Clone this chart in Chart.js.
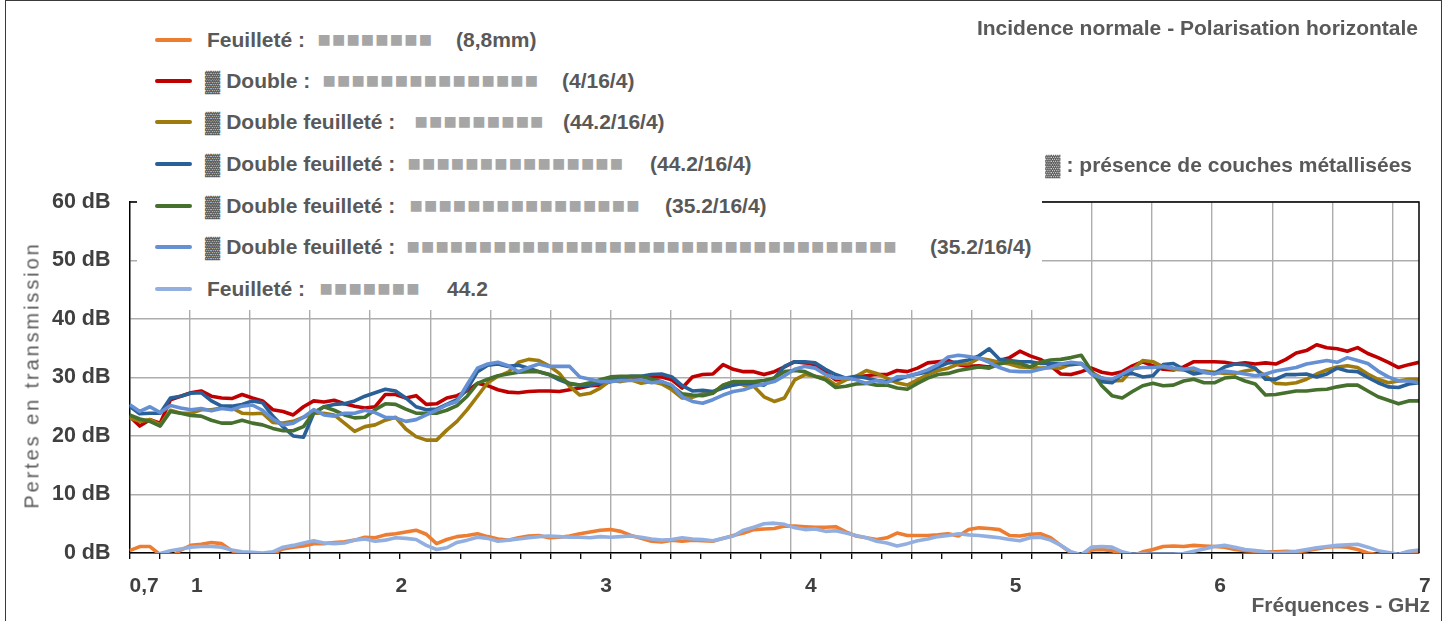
<!DOCTYPE html>
<html><head><meta charset="utf-8">
<script src="https://cdn.jsdelivr.net/npm/chart.js@4.4.0/dist/chart.umd.min.js"></script>
<style>
html,body{margin:0;padding:0;background:#fff;}
#wrap{position:relative;width:1450px;height:621px;overflow:hidden;font-family:"Liberation Sans",Arial,sans-serif;}
#c{position:absolute;left:0;top:0;}
.frame{position:absolute;left:5px;top:0px;width:1437px;height:660px;border:1.5px solid #3a3a3a;box-sizing:border-box;pointer-events:none}
.lgbox{position:absolute;background:#fff;}
.sw{position:absolute;left:155px;width:37px;height:4px;border-radius:2px;}
.t{position:absolute;white-space:nowrap;font-weight:bold;font-size:21px;color:#595959;line-height:24px;}
.sq{position:absolute;color:#A6A6A6;font-size:22px;line-height:26px;font-family:"Liberation Sans";}
.ytitle{position:absolute;left:32px;top:375px;transform:translate(-50%,-50%) rotate(-90deg);white-space:nowrap;font-size:20px;color:#595959;letter-spacing:2.9px;}
</style></head>
<body><div id="wrap">
<canvas id="c" width="1450" height="621"></canvas>
<div class="lgbox" style="left:137px;top:2px;width:905px;height:308px"></div>
<div id="legend"></div>
<div class="t" style="right:32px;top:16px">Incidence normale - Polarisation horizontale</div>
<div class="t" style="right:38px;top:153px">▓ : présence de couches métallisées</div>
<div class="ytitle">Pertes en transmission</div>
<div class="t" style="right:20px;top:593px">Fréquences - GHz</div>
<div class="frame"></div>
</div>
<script>
// ---- data, frequency in GHz, losses in dB ----
const freqGHz = [
 0.70,0.75,0.80,0.85,0.90,0.95,1.00,1.05,1.10,1.15,
 1.20,1.25,1.30,1.35,1.40,1.45,1.50,1.55,1.60,1.65,
 1.70,1.75,1.80,1.85,1.90,1.95,2.00,2.05,2.10,2.15,
 2.20,2.25,2.30,2.35,2.40,2.45,2.50,2.55,2.60,2.65,
 2.70,2.75,2.80,2.85,2.90,2.95,3.00,3.05,3.10,3.15,
 3.20,3.25,3.30,3.35,3.40,3.45,3.50,3.55,3.60,3.65,
 3.70,3.75,3.80,3.85,3.90,3.95,4.00,4.05,4.10,4.15,
 4.20,4.25,4.30,4.35,4.40,4.45,4.50,4.55,4.60,4.65,
 4.70,4.75,4.80,4.85,4.90,4.95,5.00,5.05,5.10,5.15,
 5.20,5.25,5.30,5.35,5.40,5.45,5.50,5.55,5.60,5.65,
 5.70,5.75,5.80,5.85,5.90,5.95,6.00,6.05,6.10,6.15,
 6.20,6.25,6.30,6.35,6.40,6.45,6.50,6.55,6.60,6.65,
 6.70,6.75,6.80,6.85,6.90,6.95,7.00];
const feuillete88 = [
 0.4,1.1,1.1,-0.3,-0.8,0.5,1.3,1.5,1.8,1.6,
 0.4,-0.4,-0.8,-0.6,-0.1,0.7,1.0,1.2,1.6,1.6,
 1.8,1.9,2.2,2.7,2.6,3.1,3.3,3.6,3.9,3.2,
 1.6,2.3,2.8,3.0,3.3,2.8,2.4,2.2,2.6,2.9,
 3.0,2.6,2.7,2.9,3.3,3.6,3.9,4.0,3.7,3.0,
 2.5,2.0,1.9,2.2,2.0,2.2,2.1,2.0,2.5,3.0,
 3.4,4.0,4.1,4.2,4.6,4.6,4.5,4.4,4.4,4.5,
 3.6,2.9,2.6,2.3,2.6,3.4,3.0,3.0,3.0,3.1,
 3.3,2.9,4.0,4.3,4.2,4.0,3.0,2.9,3.2,3.3,
 2.6,1.3,0.0,-0.5,0.5,0.6,0.4,-0.2,-0.5,0.2,
 0.6,1.1,1.2,1.1,1.3,1.2,1.1,1.0,0.6,0.4,
 0.3,0.2,0.2,0.3,0.2,0.4,0.7,1.0,1.1,1.0,
 0.6,0.0,-0.3,-0.3,-0.3,0.2,0.2];
const double4164 = [
 23.4,21.7,22.8,22.2,26.2,26.8,27.4,27.7,26.8,26.5,
 26.4,27.1,26.5,26.0,24.5,24.2,23.6,25.0,26.0,25.8,
 26.1,25.5,25.1,24.8,25.0,27.1,27.1,26.5,26.9,25.4,
 25.5,26.5,26.9,27.7,29.0,28.6,27.9,27.5,27.4,27.6,
 27.7,27.7,27.6,27.9,28.2,28.6,28.7,29.3,29.9,29.9,
 30.0,30.1,30.1,29.6,28.2,30.1,30.5,30.6,32.2,31.4,
 31.0,31.0,30.5,31.0,31.8,32.7,32.5,32.2,30.9,29.6,
 29.7,30.1,30.3,30.5,30.5,31.2,31.0,31.6,32.5,32.7,
 32.9,32.2,31.9,32.0,31.8,32.9,33.4,34.5,33.7,33.1,
 32.0,30.6,30.5,31.0,31.6,30.9,30.6,31.0,32.0,32.7,
 32.0,31.4,31.3,31.8,32.7,32.7,32.7,32.6,32.3,32.5,
 32.3,32.5,32.3,33.1,34.2,34.6,35.6,35.1,34.9,34.5,
 35.1,34.1,33.4,32.6,31.7,32.2,32.6];
const dblFeuil442A = [
 23.1,22.5,22.8,21.9,24.4,23.9,23.9,24.5,24.5,24.8,
 24.8,23.9,23.8,23.9,22.3,22.2,22.5,23.2,23.9,23.9,
 23.6,22.2,20.8,21.6,21.9,22.7,23.2,21.2,19.9,19.3,
 19.3,21.0,22.5,24.5,26.8,29.1,30.2,30.9,32.6,33.1,
 32.9,32.0,30.7,28.5,27.0,27.3,28.2,29.5,29.3,29.6,
 29.0,29.3,28.9,27.9,26.5,26.6,27.2,27.4,28.7,29.3,
 28.7,28.5,26.7,25.9,26.5,29.6,30.5,30.2,29.9,28.7,
 29.6,30.2,31.2,30.7,29.9,29.1,28.7,29.6,30.5,31.2,
 31.6,32.3,32.3,33.3,33.0,32.6,32.3,31.8,31.7,31.6,
 31.7,31.6,32.3,32.4,30.9,29.9,29.4,29.5,31.4,32.9,
 32.7,31.8,31.4,31.3,31.1,31.1,30.9,30.7,30.7,31.1,
 31.4,30.3,29.0,28.9,29.1,29.7,30.6,31.3,31.8,32.0,
 31.7,30.6,29.7,29.1,29.4,29.7,29.7];
const dblFeuil442B = [
 25.1,23.8,23.9,23.9,26.5,26.8,27.3,27.4,26.0,25.1,
 25.1,25.4,26.0,25.7,23.4,21.6,20.0,19.8,23.9,25.0,
 25.4,25.5,26.0,26.8,27.4,28.0,27.7,26.5,25.0,24.5,
 24.6,25.4,26.2,28.0,31.0,32.1,32.3,31.9,32.1,31.6,
 31.0,30.5,29.6,28.9,28.7,28.7,29.0,29.6,29.9,30.2,
 30.2,30.5,30.6,30.1,28.6,27.7,27.8,27.6,28.2,28.7,
 29.0,29.0,28.7,29.9,31.9,32.7,32.7,32.5,31.4,30.5,
 29.9,30.2,29.9,29.5,29.3,29.6,30.2,30.6,31.0,31.8,
 32.5,32.7,33.0,33.7,34.9,33.1,32.9,32.7,32.7,32.4,
 32.4,32.3,32.2,32.4,30.7,29.3,29.1,30.5,30.7,30.1,
 30.3,32.2,32.4,31.4,30.6,30.9,30.7,31.8,32.3,32.2,
 31.6,29.7,29.7,30.5,30.5,30.6,30.1,30.6,31.6,31.1,
 31.0,30.0,29.1,28.4,28.3,28.9,29.1];
const dblFeuil352A = [
 23.6,22.9,22.5,21.7,24.2,23.9,23.5,23.4,22.7,22.2,
 22.2,22.7,22.2,21.9,21.3,20.9,20.9,21.6,24.0,25.0,
 24.4,23.6,23.1,23.2,24.5,25.5,25.4,24.6,23.9,23.9,
 23.9,24.4,25.2,26.8,29.0,29.7,30.3,30.6,30.9,31.0,
 31.0,30.5,29.9,29.0,28.7,29.1,29.6,30.1,30.2,30.2,
 30.2,29.7,29.3,28.5,27.2,27.0,26.9,27.3,28.7,29.3,
 29.3,29.3,29.5,29.9,31.0,31.2,31.0,30.2,29.6,28.3,
 28.5,28.9,29.0,28.7,28.7,28.2,28.0,29.0,29.9,30.5,
 30.7,31.2,31.5,31.8,31.6,32.3,32.7,32.4,31.8,32.6,
 33.0,33.1,33.4,33.8,31.1,28.6,26.9,26.5,27.6,28.6,
 29.0,28.6,28.7,29.4,29.7,29.1,29.1,29.9,30.1,29.4,
 28.9,27.0,27.1,27.4,27.7,27.7,27.9,28.0,28.4,28.7,
 28.7,27.7,26.7,26.1,25.5,26.0,26.0];
const dblFeuil352B = [
 25.4,24.2,25.0,24.0,25.2,24.8,24.5,24.7,24.3,24.7,
 24.5,25.1,25.3,24.4,22.9,21.9,22.2,23.2,24.5,23.6,
 23.4,23.9,23.9,24.4,24.0,23.2,23.1,22.5,22.8,23.6,
 24.4,25.3,25.9,28.8,31.6,32.3,32.6,32.0,31.0,31.7,
 32.3,31.9,31.9,31.9,30.1,29.7,29.3,29.3,29.5,29.5,
 29.6,29.1,29.3,28.7,26.7,25.9,25.6,26.2,27.0,27.6,
 27.9,28.5,28.9,29.3,30.3,31.4,31.9,31.6,30.5,29.9,
 29.9,29.6,29.0,29.5,29.1,30.1,30.2,30.7,31.3,32.2,
 33.5,33.8,33.6,33.3,32.6,31.7,31.1,31.0,31.0,31.4,
 31.8,32.3,32.6,32.4,30.6,29.9,29.7,30.6,31.5,31.7,
 31.7,31.9,31.6,31.4,31.6,30.9,30.6,31.1,30.9,30.6,
 30.3,30.6,31.1,31.4,31.7,32.3,32.6,32.9,32.6,33.4,
 32.9,32.4,31.1,30.1,29.4,29.4,29.1];
const feuillete442 = [
 -1.5,-1.2,-0.6,-0.1,0.4,0.7,1.0,1.1,1.1,1.0,
 0.5,0.2,0.1,0.0,0.2,1.0,1.3,1.7,2.1,1.7,
 1.6,1.7,2.2,2.4,2.0,2.2,2.6,2.5,2.3,1.3,
 0.6,0.9,1.8,2.2,2.7,2.5,2.0,2.2,2.4,2.6,
 2.8,2.9,2.8,2.7,2.7,2.6,2.8,2.7,2.8,2.9,
 2.7,2.4,2.2,2.3,2.6,2.4,2.3,2.1,2.5,2.9,
 3.9,4.4,5.0,5.1,4.9,4.3,4.0,4.1,3.7,3.8,
 3.4,3.0,2.6,2.0,1.7,1.2,1.6,2.1,2.4,2.8,
 3.0,3.3,3.1,3.0,2.8,2.6,2.3,2.1,2.6,2.7,
 2.2,1.3,0.2,-0.3,1.0,1.1,1.0,0.2,-0.2,-0.2,
 -0.2,-0.2,-0.2,-0.1,0.3,0.7,1.1,1.3,1.0,0.6,
 0.4,0.2,0.0,0.1,0.3,0.6,0.9,1.1,1.3,1.4,
 1.5,1.0,0.4,0.1,-0.2,0.3,0.5];
const yTickValues = [0,10,20,30,40,50,60];
const xLabelValues = [0.7,1,2,3,4,5,6,7];
const seriesNames = ["Feuilleté : (8,8mm)","Double : (4/16/4)","Double feuilleté : (44.2/16/4)","Double feuilleté : (44.2/16/4)","Double feuilleté : (35.2/16/4)","Double feuilleté : (35.2/16/4)","Feuilleté : 44.2"];
const seriesValues = [feuillete88,double4164,dblFeuil442A,dblFeuil442B,dblFeuil352A,dblFeuil352B,feuillete442];
const seriesColors = ["#ED7D31","#C00000","#9E7B0C","#2A6098","#46702E","#6690D4","#93AFE0"];

// ---- legend (HTML text) ----
const legendRows = [
  {y:40, parts:[["Feuilleté :",207],[8,318],["(8,8mm)",456]]},
  {y:81, parts:[["▓ Double :",205],[15,323],["(4/16/4)",562]]},
  {y:122,parts:[["▓ Double feuilleté :",205],[9,415],["(44.2/16/4)",563]]},
  {y:164,parts:[["▓ Double feuilleté :",205],[15,408],["(44.2/16/4)",650]]},
  {y:206,parts:[["▓ Double feuilleté :",205],[16,410],["(35.2/16/4)",665]]},
  {y:247,parts:[["▓ Double feuilleté :",205],[34,407],["(35.2/16/4)",930]]},
  {y:289,parts:[["Feuilleté :",207],[7,320],["44.2",447]]}
];
const lg = document.getElementById('legend');
legendRows.forEach((r,i)=>{
  const sw = document.createElement('div'); sw.className='sw';
  sw.style.top=(r.y-2)+'px'; sw.style.background=seriesColors[i]; lg.appendChild(sw);
  r.parts.forEach(p=>{
    if(typeof p[0]==='number'){
      for(let k=0;k<p[0];k++){
        const s=document.createElement('div'); s.className='sq'; s.textContent='■';
        s.style.left=(p[1]+k*14.45-0.5)+'px'; s.style.top=(r.y-13)+'px'; lg.appendChild(s);
      }
    } else {
      const t=document.createElement('div'); t.className='t'; t.textContent=p[0];
      t.style.left=p[1]+'px'; t.style.top=(r.y-12)+'px'; lg.appendChild(t);
    }
  });
});

// ---- chart ----
const gridStepGHz = 0.29385; // vertical gridline spacing in the reference
const frame = {
  id:'frame',
  afterDatasetsDraw(chart){
    const a=chart.chartArea, ctx=chart.ctx;
    ctx.save(); ctx.strokeStyle='#000'; ctx.lineWidth=1.5;
    ctx.beginPath(); ctx.moveTo(a.left,a.top); ctx.lineTo(a.right,a.top); ctx.lineTo(a.right,a.bottom); ctx.stroke();
    ctx.restore();
  }
};
const fontY = {family:'"Liberation Sans", Arial, sans-serif', size:21.5, weight:'bold'};
const fontX = {family:'"Liberation Sans", Arial, sans-serif', size:21, weight:'bold'};
new Chart(document.getElementById('c'), {
  type:'line',
  data:{datasets: seriesValues.map((vals,i)=>({
    label: seriesNames[i],
    data: freqGHz.map((f,j)=>({x:f,y:vals[j]})),
    borderColor: seriesColors[i], backgroundColor: seriesColors[i],
    borderWidth:3.6, pointRadius:0, tension:0, borderJoinStyle:'round', order:7-i
  }))},
  options:{
    responsive:false, animation:false, devicePixelRatio:1,
    layout:{padding:{left:0,right:31,top:202,bottom:0}},
    plugins:{legend:{display:false},tooltip:{enabled:false}},
    scales:{
      y:{min:0,max:60,
        afterBuildTicks:s=>{s.ticks=yTickValues.map(v=>({value:v}));},
        afterFit:s=>{s.width=129.5;},
        ticks:{callback:v=>v+' dB',font:fontY,color:'#404040',padding:19},
        grid:{color:'#ADADAD',lineWidth:1.4,drawTicks:false},
        border:{color:'#000',width:1.5}},
      x:{type:'linear',min:0.7,max:7,position:'bottom',
        afterBuildTicks:s=>{const t=[];for(let k=0;k<=42;k++)t.push({value:0.7+k*gridStepGHz/2});s.ticks=t;},
        afterFit:s=>{s.height=8;},
        ticks:{display:false},
        grid:{color:c=>(c.index%2===0&&c.index>0)?'#ADADAD':'rgba(0,0,0,0)',lineWidth:1.4,tickColor:'#000',tickWidth:1.3,tickLength:6},
        border:{color:'#000',width:1.5}},
      x2:{type:'linear',min:0.7,max:7,position:'bottom',
        afterBuildTicks:s=>{s.ticks=xLabelValues.map(v=>({value:v}));},
        afterFit:s=>{s.height=60;},
        ticks:{autoSkip:false,maxRotation:0,align:'start',padding:5,font:fontX,color:'#404040',
          callback:v=>v===0.7?'0,7':String(v)},
        grid:{display:false},border:{display:false}}
    }
  },
  plugins:[frame]
});
</script>
</body></html>
